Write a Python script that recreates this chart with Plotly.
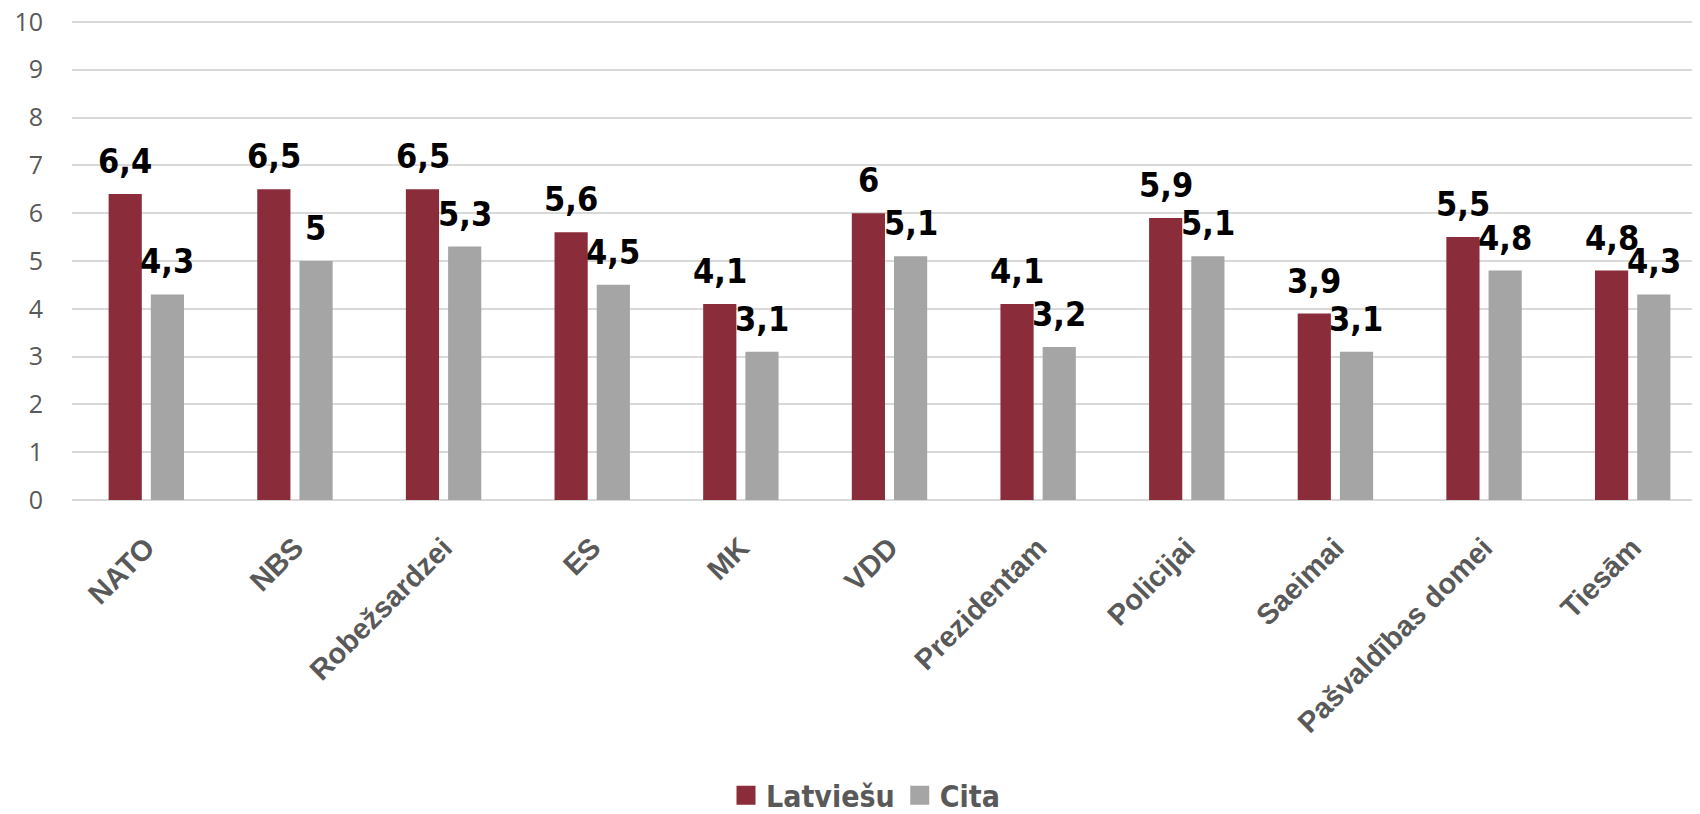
import plotly.graph_objects as go

categories = ["NATO", "NBS", "Robežsardzei", "ES", "MK", "VDD", "Prezidentam",
              "Policijai", "Saeimai", "Pašvaldības domei", "Tiesām"]
latviesu = [6.4, 6.5, 6.5, 5.6, 4.1, 6.0, 4.1, 5.9, 3.9, 5.5, 4.8]
cita = [4.3, 5.0, 5.3, 4.5, 3.1, 5.1, 3.2, 5.1, 3.1, 4.8, 4.3]
series_names = ["Latviešu", "Cita"]
y_ticks = list(range(0, 11))

RED = "#8B2C3A"
GRAY = "#A5A5A5"
LABEL_FONT = "Liberation Sans Narrow, Arial Narrow, DejaVu Sans Condensed, sans-serif"


def fmt(v):
    s = ("%g" % v)
    return s.replace(".", ",")


fig = go.Figure()
for name, vals, col in ((series_names[0], latviesu, RED), (series_names[1], cita, GRAY)):
    fig.add_trace(go.Bar(name=name, x=categories, y=vals, showlegend=False,
                         marker=dict(color=col, line=dict(width=0))))
# legend swatches (larger squares than the default bar swatch)
for name, col in ((series_names[0], RED), (series_names[1], GRAY)):
    fig.add_trace(go.Scatter(name=name, x=[None], y=[None], mode="markers",
                             marker=dict(symbol="square", size=16, color=col,
                                         line=dict(width=3, color=col))))

annotations = []
for series, shift in ((latviesu, -21), (cita, 21)):
    for c, v in zip(categories, series):
        annotations.append(dict(
            x=c, y=v, xref="x", yref="y", text=fmt(v), showarrow=False,
            xanchor="center", yanchor="bottom", xshift=shift, yshift=11,
            font=dict(family=LABEL_FONT, size=34, color="#000000", weight="bold"),
        ))

fig.update_layout(
    width=1700, height=814,
    margin=dict(l=64, r=1, t=12, b=312),
    paper_bgcolor="white", plot_bgcolor="white",
    barmode="group", bargap=0.432, bargroupgap=0.214,
    annotations=annotations,
    showlegend=True,
    legend=dict(orientation="h", x=0.4, xanchor="left", y=-0.615, yanchor="middle",
                font=dict(family=LABEL_FONT, size=30, color="#595959", weight="bold"),
                bgcolor="rgba(0,0,0,0)"),
    xaxis=dict(
        automargin=False,
        tickangle=-45, showgrid=False, showline=False, ticks="",
        ticklabelstandoff=24,
        tickfont=dict(family="Liberation Sans, Arial, sans-serif", size=29,
                      color="#595959", weight="bold"),
    ),
    yaxis=dict(
        automargin=False,
        range=[0, 10.04], tickvals=y_ticks, showgrid=True, gridcolor="#D9D9D9", gridwidth=1.5,
        zeroline=True, zerolinecolor="#D9D9D9", zerolinewidth=1.5, showline=False,
        ticks="", ticklabelstandoff=28, ticklabeloverflow="allow",
        tickfont=dict(family="Open Sans, sans-serif", size=25, color="#595959"),
    ),
)

fig.write_html("out.html")
